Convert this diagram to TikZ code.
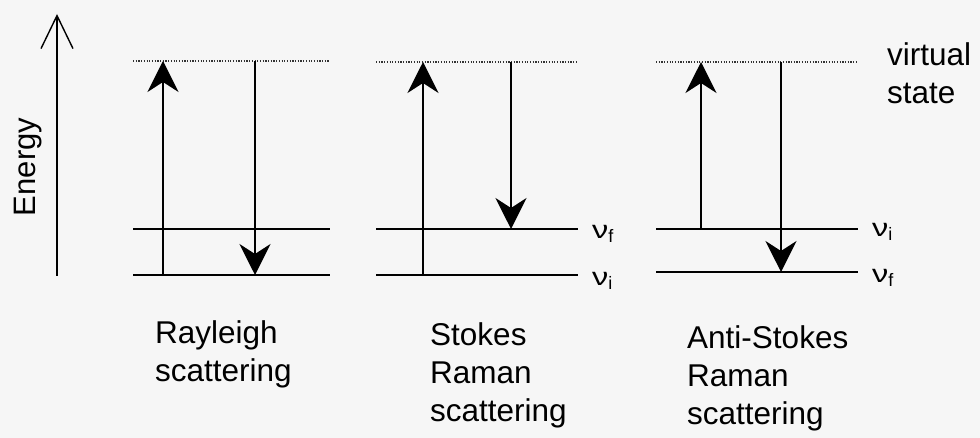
\documentclass[tikz,border=0pt]{standalone}
\usepackage{fontspec}
\setmainfont{Liberation Sans}
\usetikzlibrary{arrows.meta}
\definecolor{bg}{RGB}{246,246,246}
\newcommand{\nuf}[1]{\scalebox{1.3}[1]{ν}\raisebox{-4pt}{\fontsize{18}{18}\selectfont #1}}
\begin{document}
\begin{tikzpicture}[x=1pt,y=-1pt,
  level/.style={line width=1.8pt},
  vstate/.style={line width=1.5pt, dash pattern=on 1.2pt off 1.5pt, draw=black!80},
  trans/.style={line width=1.4pt, -{Stealth[length=31pt,width=31pt,inset=10pt]}},
  lbl/.style={anchor=north west, inner sep=0pt, align=left, font=\fontsize{31.5}{38}\selectfont},
  nulbl/.style={anchor=base west, inner sep=0pt, font=\fontsize{25}{25}\selectfont}]
\fill[bg] (0,0) rectangle (980,438);
\useasboundingbox (0,0) rectangle (980,438);

% Energy axis
\coordinate (E0) at (57,276);
\coordinate (E1) at (57,14);
\draw[line width=1.4pt, -{Straight Barb[length=33pt,width=32pt]}] (E0) -- (E1);
\node[rotate=90, inner sep=0pt, font=\fontsize{31}{31}\selectfont] (energy) at (28,167) {Energy};

% Rayleigh
\coordinate (RvL) at (133,61);  \coordinate (RvR) at (330,61);
\coordinate (RuL) at (133,229); \coordinate (RuR) at (330,229);
\coordinate (RlL) at (133,275); \coordinate (RlR) at (330,275);
\draw[vstate] (RvL) -- (RvR);
\draw[level] (RuL) -- (RuR);
\draw[level] (RlL) -- (RlR);
\coordinate (Ra0) at (163,275); \coordinate (Ra1) at (163,61);
\coordinate (Rb0) at (255,61);  \coordinate (Rb1) at (255,275);
\draw[trans] (Ra0) -- (Ra1);
\draw[trans] (Rb0) -- (Rb1);
\node[lbl] (rayl) at (155,320) {Rayleigh\\scattering};

% Stokes
\coordinate (SvL) at (376,62);  \coordinate (SvR) at (578,62);
\coordinate (SuL) at (376,229); \coordinate (SuR) at (578,229);
\coordinate (SlL) at (376,275); \coordinate (SlR) at (578,275);
\draw[vstate] (SvL) -- (SvR);
\draw[level] (SuL) -- (SuR);
\draw[level] (SlL) -- (SlR);
\coordinate (Sa0) at (423,275); \coordinate (Sa1) at (423,62);
\coordinate (Sb0) at (511,62);  \coordinate (Sb1) at (511,229);
\draw[trans] (Sa0) -- (Sa1);
\draw[trans] (Sb0) -- (Sb1);
\node[nulbl] (Snf) at (592,239) {\nuf{f}};
\node[nulbl] (Sni) at (592,286) {\nuf{i}};
\node[lbl] (stokes) at (430,322) {Stokes\\Raman\\scattering};

% Anti-Stokes
\coordinate (AvL) at (656,62);  \coordinate (AvR) at (858,62);
\coordinate (AuL) at (656,229); \coordinate (AuR) at (858,229);
\coordinate (AlL) at (656,272); \coordinate (AlR) at (858,272);
\draw[vstate] (AvL) -- (AvR);
\draw[level] (AuL) -- (AuR);
\draw[level] (AlL) -- (AlR);
\coordinate (Aa0) at (701,229); \coordinate (Aa1) at (701,62);
\coordinate (Ab0) at (781,62);  \coordinate (Ab1) at (781,272);
\draw[trans] (Aa0) -- (Aa1);
\draw[trans] (Ab0) -- (Ab1);
\node[nulbl] (Ani) at (872,237) {\nuf{i}};
\node[nulbl] (Anf) at (872,283) {\nuf{f}};
\node[lbl] (anti) at (687,325) {Anti-Stokes\\Raman\\scattering};

% virtual state label
\node[lbl] (virt) at (887,42) {virtual\\state};
\end{tikzpicture}
\end{document}
